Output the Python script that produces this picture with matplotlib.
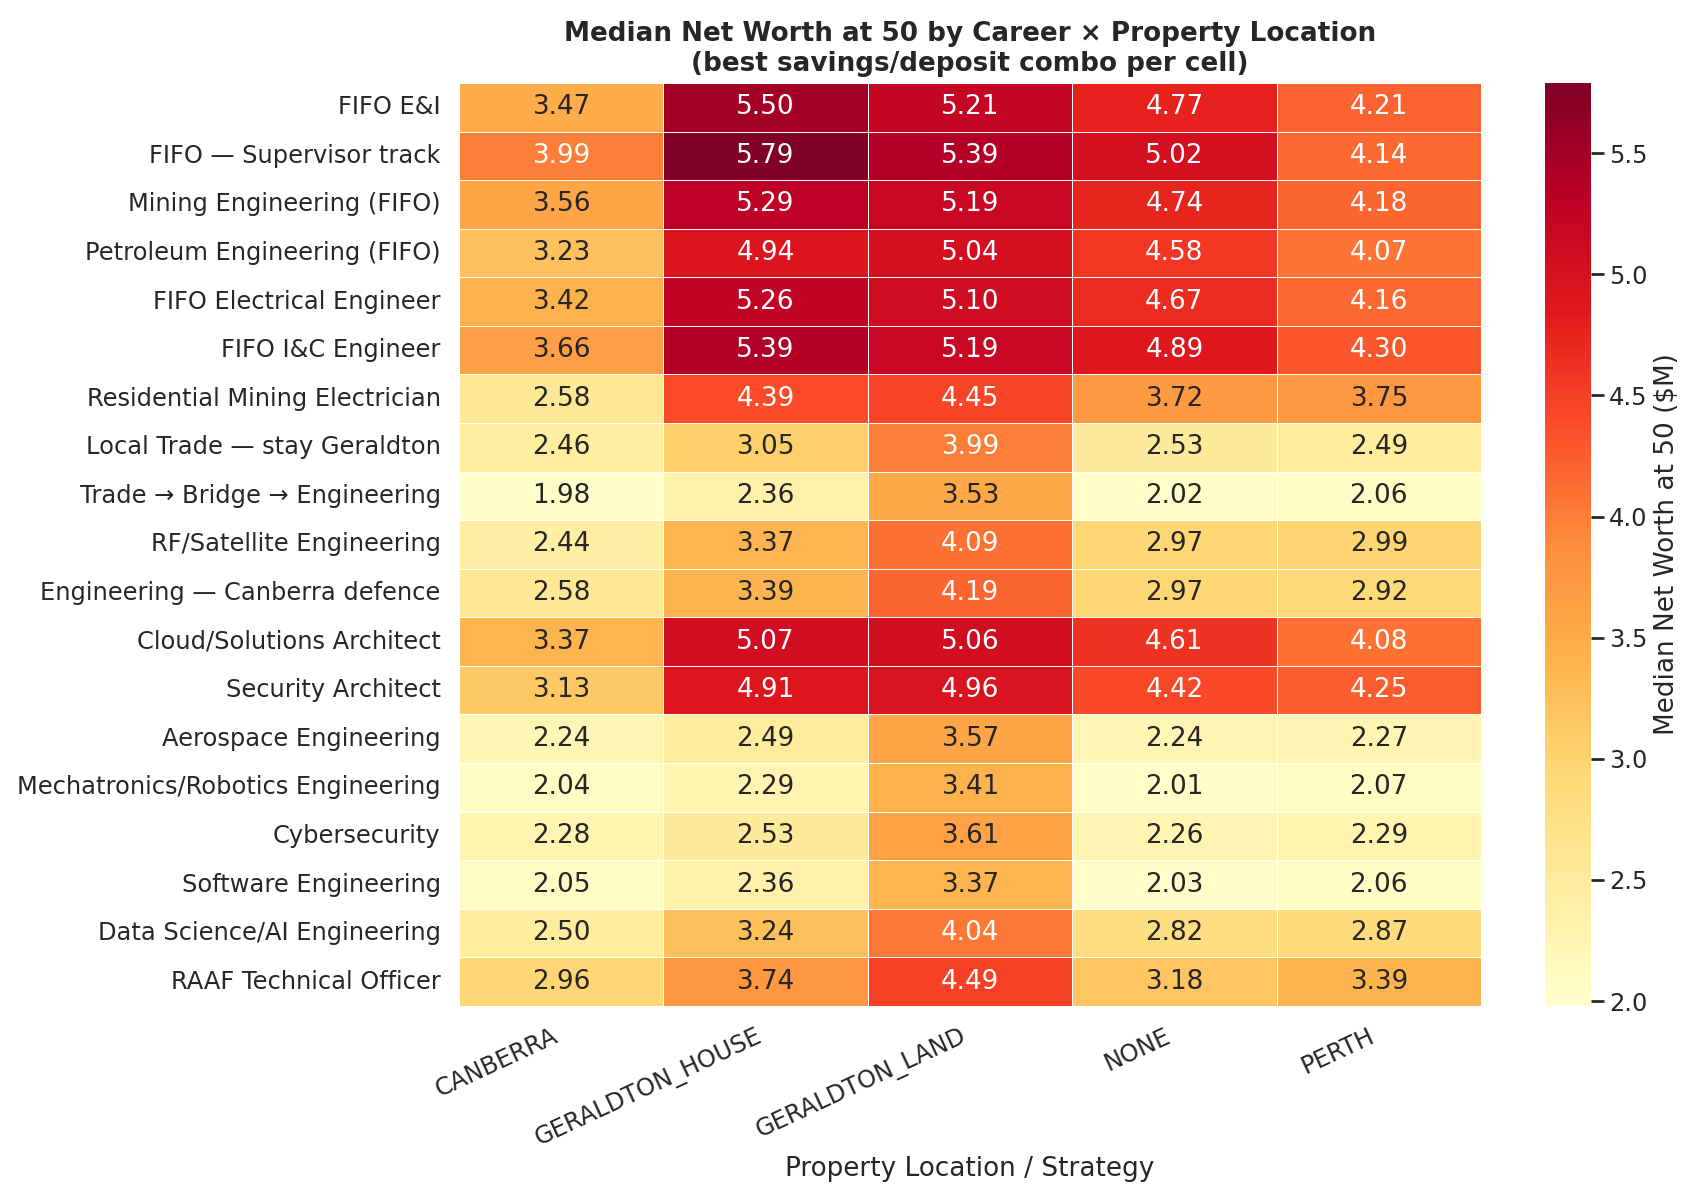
import numpy as np
import pandas as pd
import matplotlib
matplotlib.use("Agg")
import matplotlib.pyplot as plt
import seaborn as sns

careers = [
    "FIFO E&I",
    "FIFO — Supervisor track",
    "Mining Engineering (FIFO)",
    "Petroleum Engineering (FIFO)",
    "FIFO Electrical Engineer",
    "FIFO I&C Engineer",
    "Residential Mining Electrician",
    "Local Trade — stay Geraldton",
    "Trade → Bridge → Engineering",
    "RF/Satellite Engineering",
    "Engineering — Canberra defence",
    "Cloud/Solutions Architect",
    "Security Architect",
    "Aerospace Engineering",
    "Mechatronics/Robotics Engineering",
    "Cybersecurity",
    "Software Engineering",
    "Data Science/AI Engineering",
    "RAAF Technical Officer",
]
locations = ["CANBERRA", "GERALDTON_HOUSE", "GERALDTON_LAND", "NONE", "PERTH"]

canberra = [3.47, 3.99, 3.56, 3.23, 3.42, 3.66, 2.58, 2.46, 1.98, 2.44,
            2.58, 3.37, 3.13, 2.24, 2.04, 2.28, 2.05, 2.50, 2.96]
geraldton_house = [5.50, 5.79, 5.29, 4.94, 5.26, 5.39, 4.39, 3.05, 2.36, 3.37,
                   3.39, 5.07, 4.91, 2.49, 2.29, 2.53, 2.36, 3.24, 3.74]
geraldton_land = [5.21, 5.39, 5.19, 5.04, 5.10, 5.19, 4.45, 3.99, 3.53, 4.09,
                  4.19, 5.06, 4.96, 3.57, 3.41, 3.61, 3.37, 4.04, 4.49]
none = [4.77, 5.02, 4.74, 4.58, 4.67, 4.89, 3.72, 2.53, 2.02, 2.97,
        2.97, 4.61, 4.42, 2.24, 2.01, 2.26, 2.03, 2.82, 3.18]
perth = [4.21, 4.14, 4.18, 4.07, 4.16, 4.30, 3.75, 2.49, 2.06, 2.99,
         2.92, 4.08, 4.25, 2.27, 2.07, 2.29, 2.06, 2.87, 3.39]

df = pd.DataFrame(
    np.column_stack([canberra, geraldton_house, geraldton_land, none, perth]),
    index=careers, columns=locations,
)

sns.set_theme(style="white", context="talk")

DPI = 105
fig = plt.figure(figsize=(1698 / DPI, 1201 / DPI), dpi=DPI)
ax = fig.add_axes([0.2703, 0.1624, 0.6019, 0.7685])
cax = fig.add_axes([0.9099, 0.1624, 0.0271, 0.7685])

sns.heatmap(df, ax=ax, cbar_ax=cax, cmap="YlOrRd", annot=True, fmt=".2f",
            linewidths=0.5, linecolor="white",
            cbar_kws={"label": "Median Net Worth at 50 ($M)"})

ax.set_title("Median Net Worth at 50 by Career × Property Location\n"
             "(best savings/deposit combo per cell)",
             fontsize=18, fontweight="bold", pad=8)
ax.set_xlabel("Property Location / Strategy")
ax.set_ylabel("")
plt.setp(ax.get_xticklabels(), rotation=25, ha="right")
plt.setp(ax.get_yticklabels(), rotation=0)

fig.savefig("out.png", dpi=DPI)
